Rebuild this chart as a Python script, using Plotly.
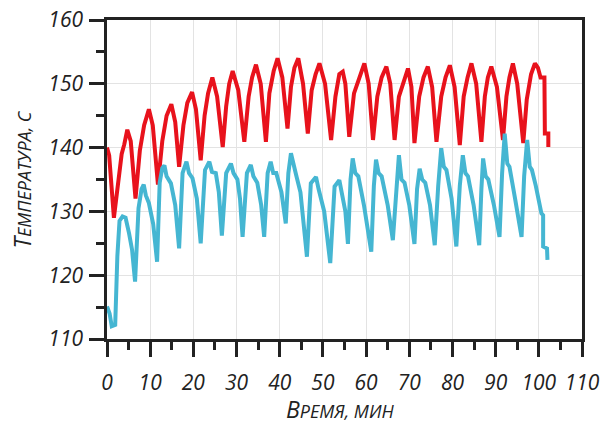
import plotly.graph_objects as go

# Red series (upper curve): time, min / temperature, C
red_t = [0, 0.5, 1.6, 2.6, 3.4, 4.0, 4.7, 5.5, 6.6,
         7.6, 8.6, 9.7, 10.6, 11.8,
         12.8, 13.8, 14.9, 15.8, 16.7,
         17.7, 18.6, 19.7, 20.6, 21.7,
         22.6, 23.4, 24.4, 25.5, 26.8,
         27.6, 28.3, 29.1, 30.4, 31.8,
         32.8, 33.6, 34.5, 35.6, 36.8,
         37.6, 38.6, 39.5, 40.6, 41.8,
         42.6, 43.4, 44.3, 45.4, 46.5,
         47.4, 48.3, 49.2, 50.5, 51.9,
         52.9, 53.8, 54.6, 55.2, 56.1,
         57.2, 58.6, 59.6, 60.6, 61.6,
         62.6, 63.6, 64.7, 65.6, 66.6,
         67.6, 68.8, 69.7, 70.5, 71.2,
         72.3, 73.3, 74.3, 75.3, 76.3,
         77.4, 78.4, 79.4, 80.5, 81.7,
         82.6, 83.5, 84.4, 85.5, 86.7,
         87.5, 88.2, 89.0, 90.3, 91.7,
         92.5, 93.2, 94.0, 95.0, 96.4,
         97.2, 98.2, 99.1, 99.8, 100.4, 101.3, 101.4, 102.2, 102.2]
red_T = [140.0, 138.8, 129.0, 134.5, 139.0, 140.5, 142.8, 141.0, 132.0,
         139.5, 143.5, 146.0, 143.5, 134.2,
         141.0, 145.0, 146.8, 144.0, 137.0,
         143.5, 147.0, 148.7, 146.0, 138.0,
         145.0, 148.5, 151.0, 148.0, 140.1,
         146.5, 150.0, 152.0, 149.0, 140.9,
         148.0, 151.0, 153.0, 150.0, 140.9,
         148.5, 152.0, 154.0, 151.0, 143.0,
         149.5, 152.5, 154.0, 150.0, 142.2,
         149.0, 151.5, 153.2, 150.0, 141.2,
         148.0, 151.5, 151.9, 150.0, 141.7,
         148.5, 151.0, 153.2, 150.0, 141.2,
         148.0, 151.0, 152.7, 150.0, 141.2,
         148.0, 150.5, 152.4, 149.5, 140.7,
         148.0, 151.0, 152.7, 149.5, 140.9,
         148.0, 151.0, 152.9, 149.5, 140.4,
         148.0, 151.0, 153.2, 150.0, 140.9,
         148.0, 151.0, 152.7, 149.5, 141.2,
         148.0, 151.0, 153.2, 150.0, 140.7,
         147.5, 151.5, 153.2, 152.5, 151.0, 151.0, 142.2, 142.2, 140.1]

# Blue series (lower curve)
blue_t = [0, 0.6, 1.1, 1.9, 2.4, 2.9, 3.6, 4.3, 5.1, 5.8, 6.5,
          7.3, 8.0, 8.5, 9.0, 9.7, 10.7, 11.6,
          12.2, 12.8, 13.3, 13.8, 14.8, 15.8, 16.7,
          17.5, 18.4, 19.0, 19.8, 20.8, 21.7,
          22.7, 23.7, 24.3, 25.2, 25.9, 26.6,
          27.6, 28.7, 29.3, 30.2, 30.8, 31.4,
          32.4, 33.3, 33.9, 34.8, 35.7, 36.4,
          37.2, 37.9, 38.5, 39.2, 40.4, 41.4,
          42.0, 42.6, 43.2, 43.8, 44.8, 46.3,
          47.2, 48.4, 49.0, 50.3, 51.7,
          52.7, 53.8, 54.6, 55.2, 55.8,
          56.4, 56.9, 57.5, 58.2, 59.5, 61.2,
          61.8, 62.3, 62.9, 63.6, 65.0, 66.2,
          67.0, 67.6, 68.2, 68.9, 70.0, 71.2,
          71.8, 72.4, 73.0, 73.7, 74.8, 75.9,
          76.7, 77.4, 78.0, 78.6, 79.8, 80.9,
          81.7, 82.4, 83.0, 83.6, 84.9, 86.2,
          86.7, 87.1, 87.7, 88.3, 89.6, 90.9,
          91.5, 92.1, 92.7, 93.2, 94.5, 96.0,
          96.6, 97.3, 97.9, 98.4, 99.3, 99.9, 100.6, 101.0, 101.0, 101.9, 102.0]
blue_T = [115.1, 114.0, 112.0, 112.2, 123.0, 128.5, 129.2, 129.0, 126.6, 124.0, 119.0,
          130.5, 133.5, 134.2, 132.5, 131.3, 128.0, 122.1,
          134.5, 136.8, 137.2, 135.5, 134.4, 131.0, 124.2,
          136.0, 137.8, 136.0, 135.2, 132.0, 125.0,
          136.5, 137.8, 136.2, 136.0, 133.0, 126.2,
          136.0, 137.5, 136.0, 135.0, 132.0, 126.0,
          136.0, 137.3, 135.5, 134.5, 131.0, 126.0,
          136.0, 137.8, 136.0, 136.0, 133.0, 128.1,
          136.0, 139.1, 137.0, 135.7, 133.0, 122.9,
          134.4, 135.4, 133.5, 130.0, 121.9,
          133.9, 134.9, 132.3, 130.0, 124.9,
          135.0, 138.3, 136.0, 135.5, 131.0, 123.7,
          134.0, 138.1, 136.0, 135.5, 131.0, 125.5,
          134.0, 138.8, 135.0, 134.5, 131.0, 124.9,
          133.5, 136.7, 135.0, 134.5, 131.0, 124.7,
          134.0, 139.9, 137.0, 136.5, 132.0, 124.5,
          134.0, 138.8, 136.0, 135.5, 131.0, 124.7,
          133.5, 138.3, 135.5, 135.0, 131.0, 126.0,
          136.0, 142.2, 137.5, 137.0, 132.0, 126.0,
          135.5, 141.2, 137.0, 136.5, 134.0, 132.3, 129.7, 129.4, 124.5, 124.2, 122.4]

x_ticks = [0, 10, 20, 30, 40, 50, 60, 70, 80, 90, 100, 110]
y_ticks = [110, 120, 130, 140, 150, 160]

FONT = "Open Sans"
INK = "#222222"

fig = go.Figure()
fig.add_trace(go.Scatter(x=red_t, y=red_T, mode="lines",
                         line=dict(color="#e8121c", width=4), showlegend=False))
fig.add_trace(go.Scatter(x=blue_t, y=blue_T, mode="lines",
                         line=dict(color="#45b6d2", width=4), showlegend=False))

axis_common = dict(
    showline=True, linecolor=INK, linewidth=2.5, mirror=True,
    showgrid=True, gridcolor="#e3e3e3", gridwidth=1,
    ticks="outside", ticklen=15, tickwidth=2.5, tickcolor=INK,
    tickfont=dict(family=FONT, size=21, color=INK, style="italic"),
    zeroline=False, automargin=False, ticklabeloverflow="allow",
)

fig.update_xaxes(range=[0, 110], tickvals=x_ticks, ticktext=[str(v) for v in x_ticks],
                 minor=dict(dtick=5, tick0=0, ticklen=8, tickwidth=2.5, tickcolor=INK, ticks="outside", showgrid=False),
                 ticklabelstandoff=8, **axis_common)
fig.update_yaxes(range=[110, 160], tickvals=y_ticks, ticktext=[str(v) for v in y_ticks],
                 minor=dict(dtick=5, tick0=110, ticklen=8, tickwidth=2.5, tickcolor=INK, ticks="outside", showgrid=False),
                 ticklabelstandoff=2, **axis_common)

fig.add_annotation(text="В<span style='font-size:18px'>РЕМЯ, МИН</span>",
                   xref="paper", yref="paper", x=0.49, y=0, yshift=-70,
                   xanchor="center", yanchor="middle", showarrow=False,
                   font=dict(family=FONT, size=23, color=INK, style="italic"))
fig.add_annotation(text="Т<span style='font-size:18px'>ЕМПЕРАТУРА, С</span>",
                   xref="paper", yref="paper", x=0, xshift=-86, y=0.5,
                   xanchor="center", yanchor="middle", textangle=-90, showarrow=False,
                   font=dict(family=FONT, size=23, color=INK, style="italic"))

fig.update_layout(width=601, height=424, margin=dict(l=107, r=19, t=20, b=85, autoexpand=False),
                  paper_bgcolor="white", plot_bgcolor="white")

# remove the browser's default 8px body margin so the 601x424 figure fills the window exactly
fig.write_html("out.html", config={"displayModeBar": False},
               post_script="document.body.style.margin='0px';document.body.style.overflow='hidden';")
